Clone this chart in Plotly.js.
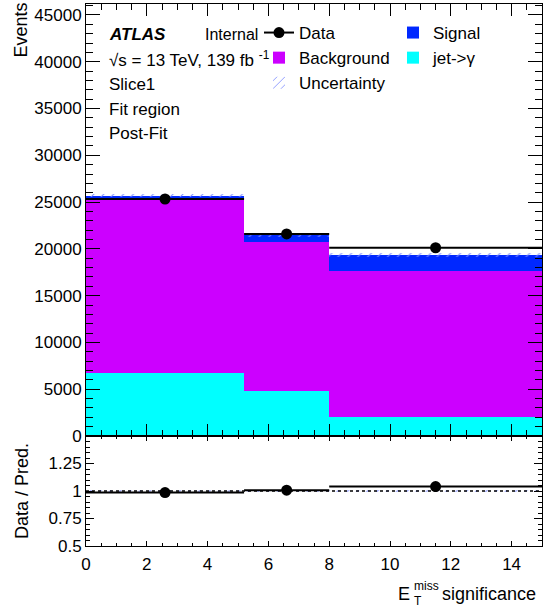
<!DOCTYPE html>
<html>
<head>
<meta charset="utf-8">
<script src="https://cdn.plot.ly/plotly-3.0.1.min.js"></script>
<style>html,body{margin:0;padding:0;background:#fff;}#chart{width:553px;height:612px;}</style>
</head>
<body>
<div id="chart"></div>
<script>
// ---- data ----
const binEdges = [0, 5.2, 8, 15];
const jetGamma = [6730, 4860, 2050];
const background = [18570, 15900, 15580];
const signal = [400, 690, 1710];
const uncertainty = [200, 200, 250];
const dataCounts = [25330, 21600, 20120];
const yTickVals2 = [0.5, 0.75, 1, 1.25];
const yTickText2 = ['0.5', '0.75', '1', '1.25'];

// ---- derived ----
const centers = [], widths = [];
for (let i = 0; i < binEdges.length - 1; i++) {
  centers.push((binEdges[i] + binEdges[i + 1]) / 2);
  widths.push(binEdges[i + 1] - binEdges[i]);
}
const halfW = widths.map(w => w / 2);
const base1 = jetGamma.slice();
const base2 = jetGamma.map((v, i) => v + background[i]);
const total = base2.map((v, i) => v + signal[i]);
const ratio = dataCounts.map((d, i) => d / total[i]);
const relUnc = uncertainty.map((u, i) => u / total[i]);

const FONT = 'Liberation Sans, Arial, Helvetica, sans-serif';
const W = 553, H = 612, L = 86, R = 11, T = 4, B = 66;
const pw = W - L - R, ph = H - T - B;
const px = x => (x - L) / pw;
const py = y => (H - B - y) / ph;
const split = 110 / ph;

const hatch = {shape: '/', fgcolor: '#7d8cff', bgcolor: 'rgba(0,0,0,0)', size: 7, solidity: 0.15};

const traces = [
  {type: 'bar', name: 'jet->γ', x: centers, y: jetGamma, base: [0, 0, 0], width: widths, legendrank: 2,
   marker: {color: '#00ffff', line: {width: 0}}, legend: 'legend2', xaxis: 'x', yaxis: 'y', hoverinfo: 'skip'},
  {type: 'bar', name: 'Background', x: centers, y: background, base: base1, width: widths, legendrank: 2,
   marker: {color: '#cc00ff', line: {width: 0}}, legend: 'legend', xaxis: 'x', yaxis: 'y', hoverinfo: 'skip'},
  {type: 'bar', name: 'Signal', x: centers, y: signal, base: base2, width: widths, legendrank: 1,
   marker: {color: '#0028ff', line: {width: 0}}, legend: 'legend2', xaxis: 'x', yaxis: 'y', hoverinfo: 'skip'},
  {type: 'bar', name: 'Uncertainty', x: centers, y: uncertainty.map(u => 2 * u), legendrank: 3,
   base: total.map((t, i) => t - uncertainty[i]), width: widths,
   marker: {color: 'rgba(0,0,0,0)', line: {width: 0}, pattern: hatch}, legend: 'legend', xaxis: 'x', yaxis: 'y', hoverinfo: 'skip'},
  {type: 'scatter', mode: 'markers', name: 'Data', x: centers, y: dataCounts, showlegend: false,
   marker: {color: 'black', size: 11, symbol: 'circle'},
   error_x: {type: 'data', array: halfW, visible: true, color: 'black', thickness: 2, width: 0},
   xaxis: 'x', yaxis: 'y', hoverinfo: 'skip'},
  {type: 'scatter', mode: 'lines+markers', name: 'Data', x: [null], y: [null], legend: 'legend', legendrank: 1,
   marker: {color: 'black', size: 11}, line: {color: 'black', width: 2}, xaxis: 'x', yaxis: 'y'},
  // ratio panel
  {type: 'bar', x: centers, y: relUnc.map(u => 2 * u), base: relUnc.map(u => 1 - u), width: widths,
   marker: {color: 'rgba(0,0,0,0)', line: {width: 0}, pattern: hatch}, showlegend: false,
   xaxis: 'x2', yaxis: 'y2', hoverinfo: 'skip'},
  {type: 'scatter', mode: 'lines', x: [binEdges[0], binEdges[binEdges.length - 1]], y: [1, 1], showlegend: false,
   line: {color: 'black', width: 1.5, dash: 'dot'}, xaxis: 'x2', yaxis: 'y2', hoverinfo: 'skip'},
  {type: 'scatter', mode: 'markers', x: centers, y: ratio, showlegend: false,
   marker: {color: 'black', size: 11},
   error_x: {type: 'data', array: halfW, visible: true, color: 'black', thickness: 2, width: 0},
   xaxis: 'x2', yaxis: 'y2', hoverinfo: 'skip'}
];

const axBase = {showline: true, linecolor: 'black', linewidth: 1, mirror: 'allticks', ticks: 'inside',
  tickcolor: 'black', showgrid: false, zeroline: false, tickfont: {family: FONT, size: 17, color: 'black'}};

const layout = {
  width: W, height: H, margin: {l: L, r: R, t: T, b: B},
  paper_bgcolor: 'white', plot_bgcolor: 'white',
  barmode: 'overlay', bargap: 0,
  font: {family: FONT, size: 17, color: 'black'},
  xaxis: Object.assign({}, axBase, {domain: [0, 1], anchor: 'y', range: [0, 15], dtick: 2, ticklen: 12,
    showticklabels: false, minor: {dtick: 0.5, ticklen: 6, ticks: 'inside', tickcolor: 'black'}}),
  yaxis: Object.assign({}, axBase, {domain: [split, 1], anchor: 'x', range: [0, 46170], dtick: 5000, ticklen: 14,
    tickformat: 'd', minor: {dtick: 1000, ticklen: 7, ticks: 'inside', tickcolor: 'black'}}),
  xaxis2: Object.assign({}, axBase, {domain: [0, 1], anchor: 'y2', range: [0, 15], dtick: 2, ticklen: 5,
    ticklabelstandoff: 3, minor: {dtick: 0.5, ticklen: 3, ticks: 'inside', tickcolor: 'black'}}),
  yaxis2: Object.assign({}, axBase, {domain: [0, split], anchor: 'x2', range: [0.5, 1.5], tickvals: yTickVals2,
    ticktext: yTickText2, ticklen: 8, minor: {dtick: 0.05, ticklen: 4, ticks: 'inside', tickcolor: 'black'}}),
  legend: {x: px(259), y: py(15), xanchor: 'left', yanchor: 'top', bgcolor: 'rgba(0,0,0,0)',
    font: {family: FONT, size: 17}, traceorder: 'normal', tracegroupgap: 0, itemwidth: 30},
  legend2: {x: px(393), y: py(15), xanchor: 'left', yanchor: 'top', bgcolor: 'rgba(0,0,0,0)',
    font: {family: FONT, size: 17}, traceorder: 'normal', tracegroupgap: 0, itemwidth: 30},
  showlegend: true,
  annotations: [
    {text: '<b><i>ATLAS</i></b>', x: px(107), y: py(34), xanchor: 'left', yanchor: 'middle', showarrow: false, font: {size: 17}},
    {text: 'Internal', x: px(203), y: py(34), xanchor: 'left', yanchor: 'middle', showarrow: false, font: {size: 16}},
    {text: '√s = 13 TeV, 139 fb <sup>-1</sup>', x: px(107), y: py(59), xanchor: 'left', yanchor: 'middle', showarrow: false, font: {size: 17}},
    {text: 'Slice1', x: px(107), y: py(85), xanchor: 'left', yanchor: 'middle', showarrow: false, font: {size: 17}},
    {text: 'Fit region', x: px(107), y: py(109), xanchor: 'left', yanchor: 'middle', showarrow: false, font: {size: 17}},
    {text: 'Post-Fit', x: px(107), y: py(134), xanchor: 'left', yanchor: 'middle', showarrow: false, font: {size: 17}},
    {text: 'Events', x: px(21), y: py(1), xanchor: 'center', yanchor: 'top', textangle: -90, showarrow: false, font: {size: 18}},
    {text: 'Data / Pred.', x: px(22), y: py(491), xanchor: 'center', yanchor: 'middle', textangle: -90, showarrow: false, font: {size: 18}},
    {text: 'E', x: px(412), y: py(594), xanchor: 'right', yanchor: 'middle', showarrow: false, font: {size: 18}},
    {text: 'miss', x: px(412), y: py(586), xanchor: 'left', yanchor: 'middle', showarrow: false, font: {size: 12}},
    {text: 'T', x: px(412), y: py(601), xanchor: 'left', yanchor: 'middle', showarrow: false, font: {size: 12}},
    {text: 'significance', x: px(538), y: py(594), xanchor: 'right', yanchor: 'middle', showarrow: false, font: {size: 18}}
  ]
};
layout.annotations.forEach(a => { a.xref = 'paper'; a.yref = 'paper'; a.font.family = FONT; a.font.color = 'black'; });

Plotly.newPlot('chart', traces, layout, {staticPlot: true, displayModeBar: false});
</script>
</body>
</html>
